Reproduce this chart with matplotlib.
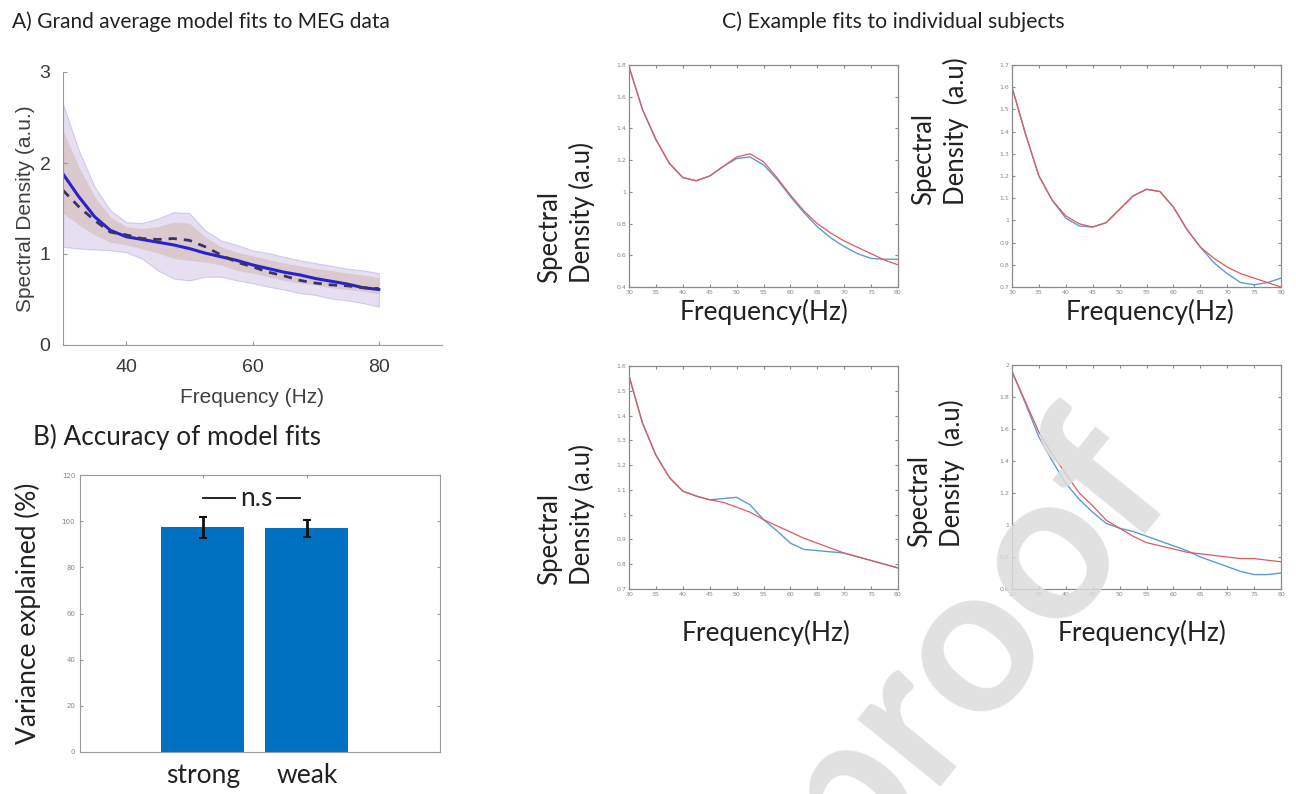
import matplotlib
matplotlib.use('Agg')
import matplotlib.pyplot as plt

W, H = 1296, 794

# ---------------- datos ----------------
freq_a = [30, 32.5, 35, 37.5, 40, 42.5, 45, 47.5, 50, 52.5, 55, 57.5,
          60, 62.5, 65, 67.5, 70, 72.5, 75, 77.5, 80]
grand_data = [1.88, 1.63, 1.41, 1.26, 1.19, 1.16, 1.13, 1.10, 1.06, 1.01, 0.97, 0.93,
              0.88, 0.84, 0.80, 0.77, 0.73, 0.70, 0.67, 0.63, 0.61]
grand_model = [1.70, 1.52, 1.37, 1.24, 1.21, 1.17, 1.16, 1.17, 1.15, 1.08, 0.99, 0.91,
               0.86, 0.80, 0.76, 0.71, 0.68, 0.66, 0.65, 0.63, 0.62]
band1_upper = [2.65, 2.14, 1.74, 1.48, 1.35, 1.34, 1.39, 1.46, 1.45, 1.26, 1.15, 1.10,
               1.04, 1.01, 0.97, 0.93, 0.90, 0.87, 0.84, 0.82, 0.79]
band1_lower = [1.08, 1.06, 1.05, 1.04, 1.02, 0.95, 0.82, 0.73, 0.71, 0.75, 0.75, 0.71,
               0.68, 0.64, 0.61, 0.57, 0.55, 0.51, 0.49, 0.46, 0.42]
band2_upper = [2.36, 1.96, 1.63, 1.41, 1.30, 1.28, 1.30, 1.35, 1.34, 1.19, 1.08, 1.02,
               0.98, 0.94, 0.90, 0.87, 0.84, 0.82, 0.79, 0.77, 0.74]
band2_lower = [1.45, 1.32, 1.21, 1.13, 1.10, 1.06, 1.01, 0.95, 0.93, 0.91, 0.88, 0.82,
               0.79, 0.75, 0.71, 0.68, 0.66, 0.63, 0.61, 0.59, 0.56]

conditions = ['strong', 'weak']
cond_pos = [1, 2]
variance = [97.3, 96.9]
variance_err = [4.6, 3.6]

freq_c = freq_a
s1_data = [1.79, 1.52, 1.33, 1.18, 1.09, 1.07, 1.10, 1.16, 1.21, 1.22, 1.17, 1.08,
           0.97, 0.87, 0.78, 0.71, 0.655, 0.61, 0.58, 0.575, 0.575]
s1_fit = [1.79, 1.52, 1.33, 1.18, 1.09, 1.07, 1.10, 1.16, 1.22, 1.24, 1.19, 1.09,
          0.98, 0.88, 0.80, 0.74, 0.69, 0.65, 0.61, 0.57, 0.54]
s2_data = [1.60, 1.39, 1.20, 1.09, 1.01, 0.975, 0.97, 0.99, 1.05, 1.11, 1.14, 1.13,
           1.06, 0.96, 0.88, 0.81, 0.76, 0.72, 0.71, 0.72, 0.74]
s2_fit = [1.60, 1.39, 1.20, 1.09, 1.02, 0.985, 0.97, 0.99, 1.05, 1.11, 1.14, 1.13,
          1.06, 0.96, 0.88, 0.83, 0.79, 0.76, 0.74, 0.72, 0.70]
s3_data = [1.56, 1.37, 1.24, 1.15, 1.095, 1.075, 1.06, 1.065, 1.07, 1.04, 0.98, 0.935,
           0.885, 0.86, 0.855, 0.85, 0.845, 0.83, 0.815, 0.80, 0.785]
s3_fit = [1.56, 1.37, 1.24, 1.15, 1.095, 1.075, 1.06, 1.05, 1.03, 1.01, 0.98, 0.955,
          0.93, 0.905, 0.885, 0.865, 0.845, 0.83, 0.815, 0.80, 0.785]
s4_data = [1.96, 1.76, 1.55, 1.40, 1.26, 1.16, 1.08, 1.01, 0.98, 0.96, 0.93, 0.90,
           0.87, 0.84, 0.80, 0.77, 0.74, 0.71, 0.69, 0.69, 0.70]
s4_fit = [1.96, 1.77, 1.58, 1.44, 1.32, 1.20, 1.12, 1.03, 0.98, 0.93, 0.89, 0.87,
          0.85, 0.83, 0.82, 0.81, 0.80, 0.79, 0.79, 0.78, 0.77]

subjects = [
    # datos, ajuste, ylim, paso de ticks
    (s1_data, s1_fit, (0.4, 1.8), 0.2),
    (s2_data, s2_fit, (0.7, 1.7), 0.1),
    (s3_data, s3_fit, (0.7, 1.6), 0.1),
    (s4_data, s4_fit, (0.6, 2.0), 0.2),
]

TXT = 'Lato'


def rect(l, t, r, b):
    """Convierte una caja en píxeles (izq, arriba, der, abajo) a coordenadas de figura."""
    return [l / W, 1 - b / H, (r - l) / W, (b - t) / H]


def fmt_tick(v):
    s = f'{v:.1f}'
    return s[:-2] if s.endswith('.0') else s


fig = plt.figure(figsize=(W / 100, H / 100), dpi=100)

# ---------------- A) promedio general ----------------
ax = fig.add_axes(rect(63, 72, 442, 345))
ax.fill_between(freq_a, band1_lower, band1_upper, color='#b8a6dc', alpha=0.35,
                edgecolor='#9a86d6', linewidth=0.8)
ax.fill_between(freq_a, band2_lower, band2_upper, color='#c4a48a', alpha=0.35,
                linewidth=0)
ax.plot(freq_a, grand_data, color='#2a22d0', linewidth=2.2)
ax.plot(freq_a, grand_model, color='#3a3366', linewidth=2.0, dashes=(3, 2.5))
ax.set_xlim(30, 90)
ax.set_ylim(0, 3)
ax.set_xticks([40, 60, 80])
ax.set_yticks([0, 1, 2, 3])
for side in ['top', 'right']:
    ax.spines[side].set_visible(False)
for side in ['left', 'bottom']:
    ax.spines[side].set_color('#9a9a9a')
ax.tick_params(direction='in', length=3, color='#9a9a9a', labelsize=14,
               labelcolor='#3a3a3a')
ax.tick_params(axis='x', pad=10)
ax.tick_params(axis='y', pad=9)
for lab in ax.get_xticklabels() + ax.get_yticklabels():
    lab.set_family('Liberation Sans')
ax.set_xlabel('Frequency (Hz)', fontsize=15, color='#404040', family='Liberation Sans',
              labelpad=9)
ax.set_ylabel('Spectral Density (a.u.)', fontsize=15, color='#404040',
              family='Liberation Sans', labelpad=3)

# ---------------- B) precisión de los ajustes ----------------
ax = fig.add_axes(rect(80, 475, 440, 752))
ax.bar(cond_pos, variance, width=0.8, color='#0070c0', zorder=2)
ax.errorbar(cond_pos, variance, yerr=variance_err, fmt='none', ecolor='#111111',
            elinewidth=2, capsize=3, capthick=1.5, zorder=3)
ax.set_xlim(-0.18, 3.28)
ax.set_ylim(0, 120)
ax.set_yticks(range(0, 121, 20))
ax.set_xticks(cond_pos)
ax.set_xticklabels(conditions, fontsize=19, family=TXT, color='#222222')
for sp in ax.spines.values():
    sp.set_color('#9a9a9a')
ax.tick_params(direction='in', length=2.5, color='#9a9a9a', top=True, right=True)
ax.tick_params(axis='y', labelsize=5, labelcolor='#888888')
ax.tick_params(axis='x', pad=8)
ax.set_ylabel('Variance explained (%)', fontsize=19, family=TXT, color='#222222',
              labelpad=15)
# marca de "n.s"
ax.plot([1.0, 1.31], [110, 110], color='#111111', linewidth=1.3)
ax.plot([1.71, 1.93], [110, 110], color='#111111', linewidth=1.3)
ax.text(1.51, 110, 'n.s', fontsize=19, family=TXT, color='#222222',
        ha='center', va='center')

# ---------------- C) ajustes individuales ----------------
boxes = [(629, 65, 898, 287), (1012, 65, 1281, 287),
         (629, 366, 898, 589), (1012, 365, 1281, 589)]
ylab_pos = [(566, 283), (940, 205), (566, 585), (936, 547)]
xlab_pos = [(764, 312), (1150, 312), (766, 633), (1142, 633)]

for i, (data, fit, ylim, step) in enumerate(subjects):
    ax = fig.add_axes(rect(*boxes[i]))
    ax.plot(freq_c, data, color='#5b9bd5', linewidth=1.0)
    ax.plot(freq_c, fit, color='#e05a5a', linewidth=0.9)
    ax.set_xlim(30, 80)
    ax.set_ylim(*ylim)
    ax.set_xticks(range(30, 81, 5))
    n = int(round((ylim[1] - ylim[0]) / step))
    yt = [ylim[0] + k * step for k in range(n + 1)]
    ax.set_yticks(yt)
    ax.set_yticklabels([fmt_tick(v) for v in yt])
    for sp in ax.spines.values():
        sp.set_color('#8a8a8a')
        sp.set_linewidth(0.9)
    ax.tick_params(direction='in', length=2.5, color='#8a8a8a', top=True, right=True,
                   labelsize=4.5, labelcolor='#888888', pad=2)

    ys = 'Spectral\nDensity (a.u)' if i % 2 == 0 else 'Spectral\nDensity  (a.u)'
    x, y = ylab_pos[i]
    fig.text(x / W, 1 - y / H, ys, rotation=90, fontsize=18.5, family=TXT,
             color='#222222', ha='center', va='bottom', multialignment='left',
             linespacing=1.35)
    x, y = xlab_pos[i]
    fig.text(x / W, 1 - y / H, 'Frequency(Hz)', fontsize=19, family=TXT,
             color='#222222', ha='center', va='center')

# ---------------- títulos ----------------
fig.text(12 / W, 1 - 22 / H, 'A) Grand average model fits to MEG data', fontsize=15,
         family=TXT, color='#222222', ha='left', va='center')
fig.text(33 / W, 1 - 437 / H, 'B) Accuracy of model fits', fontsize=18.8,
         family=TXT, color='#222222', ha='left', va='center')
fig.text(722 / W, 1 - 22 / H, 'C) Example fits to individual subjects', fontsize=15.3,
         family=TXT, color='#222222', ha='left', va='center')

# marca de agua (recortada por el borde inferior, como en el original)
fig.text(968 / W, 1 - 642 / H, 'proof', fontsize=150, family=TXT, weight='bold',
         color='#dcdcdc', alpha=0.85, rotation=51, ha='center', va='center', zorder=10)

fig.savefig('out.png', dpi=100)
